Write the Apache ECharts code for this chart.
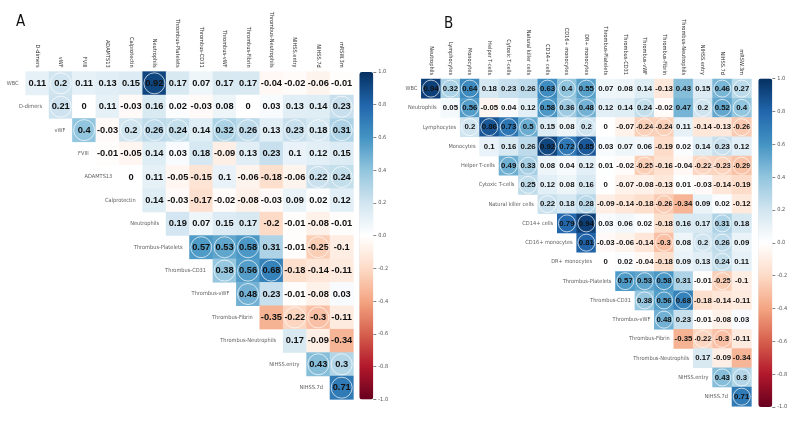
<!DOCTYPE html>
<html>
<head>
<meta charset="utf-8">
<script src="https://cdn.jsdelivr.net/npm/echarts@6/dist/echarts.min.js"></script>
<style>html,body{margin:0;padding:0;background:#fff;}#c{width:800px;height:433px;}</style>
</head>
<body>
<div id="c"></div>
<script>
// ---------- Panel A ----------
const colsA = ['D-dimers','vWF','FVIII','ADAMTS13','Calprotectin','Neutrophils','Thrombus-Platelets','Thrombus-CD31','Thrombus-vWF','Thrombus-Fibrin','Thrombus-Neutrophils','NIHSS.entry','NIHSS.7d','mRSW.3m'];
const rowsA = ['WBC','D-dimers','vWF','FVIII','ADAMTS13','Calprotectin','Neutrophils','Thrombus-Platelets','Thrombus-CD31','Thrombus-vWF','Thrombus-Fibrin','Thrombus-Neutrophils','NIHSS.entry','NIHSS.7d'];
// row i holds the values for columns i..end
const valuesA = [
  [0.11,0.2,0.11,0.13,0.15,0.92,0.17,0.07,0.17,0.17,-0.04,-0.02,-0.06,-0.01],
  [0.21,0,0.11,-0.03,0.16,0.02,-0.03,0.08,0,0.03,0.13,0.14,0.23],
  [0.4,-0.03,0.2,0.26,0.24,0.14,0.32,0.26,0.13,0.23,0.18,0.31],
  [-0.01,-0.05,0.14,0.03,0.18,-0.09,0.13,0.23,0.1,0.12,0.15],
  [0,0.11,-0.05,-0.15,0.1,-0.06,-0.18,-0.06,0.22,0.24],
  [0.14,-0.03,-0.17,-0.02,-0.08,-0.03,0.09,0.02,0.12],
  [0.19,0.07,0.15,0.17,-0.2,-0.01,-0.08,-0.01],
  [0.57,0.53,0.58,0.31,-0.01,-0.25,-0.1],
  [0.38,0.56,0.68,-0.18,-0.14,-0.11],
  [0.48,0.23,-0.01,-0.08,0.03],
  [-0.35,-0.22,-0.3,-0.11],
  [0.17,-0.09,-0.34],
  [0.43,0.3],
  [0.71]
];
// significance marks (white circles), same shape as valuesA
const sigA = [
  [0,1,0,0,0,1,0,0,0,0,0,0,0,0],
  [1,0,0,0,0,0,0,0,0,0,0,0,1],
  [1,0,1,1,1,0,1,1,0,1,1,1],
  [0,0,0,0,0,0,0,0,0,0,0],
  [0,0,0,0,0,0,0,0,1,1],
  [0,0,0,0,0,0,0,0,0],
  [0,0,0,0,0,0,0,0],
  [1,1,1,0,0,1,0],
  [1,1,1,0,0,0],
  [1,0,0,0,0],
  [0,1,1,0],
  [0,0,0],
  [1,1],
  [1]
];

// ---------- Panel B ----------
const colsB = ['Neutrophils','Lymphocytes','Monocytes','Helper T-cells','Cytoxic T-cells','Natural killer cells','CD14+ cells','CD16+ monocytes','DR+ monocytes','Thrombus-Platelets','Thrombus-CD31','Thrombus-vWF','Thrombus-Fibrin','Thrombus-Neutrophils','NIHSS.entry','NIHSS.7d','mRSW.3m'];
const rowsB = ['WBC','Neutrophils','Lymphocytes','Monocytes','Helper T-cells','Cytoxic T-cells','Natural killer cells','CD14+ cells','CD16+ monocytes','DR+ monocytes','Thrombus-Platelets','Thrombus-CD31','Thrombus-vWF','Thrombus-Fibrin','Thrombus-Neutrophils','NIHSS.entry','NIHSS.7d'];
const valuesB = [
  [0.94,0.32,0.64,0.18,0.23,0.26,0.63,0.4,0.55,0.07,0.08,0.14,-0.13,0.43,0.15,0.46,0.27],
  [0.05,0.56,-0.05,0.04,0.12,0.58,0.36,0.48,0.12,0.14,0.24,-0.02,0.47,0.2,0.52,0.4],
  [0.2,0.86,0.73,0.5,0.15,0.08,0.2,0,-0.07,-0.24,-0.24,0.11,-0.14,-0.13,-0.26],
  [0.1,0.16,0.26,0.92,0.72,0.85,0.03,0.07,0.06,-0.19,0.02,0.14,0.23,0.12],
  [0.49,0.33,0.08,0.04,0.12,0.01,-0.02,-0.25,-0.16,-0.04,-0.22,-0.23,-0.29],
  [0.25,0.12,0.08,0.16,0,-0.07,-0.08,-0.13,0.01,-0.03,-0.14,-0.19],
  [0.22,0.18,0.28,-0.09,-0.14,-0.18,-0.26,-0.34,0.09,0.02,-0.12],
  [0.79,0.94,0.03,0.06,0.02,-0.18,0.16,0.17,0.31,0.18],
  [0.81,-0.03,-0.06,-0.14,-0.3,0.08,0.2,0.26,0.09],
  [0,0.02,-0.04,-0.18,0.09,0.13,0.24,0.11],
  [0.57,0.53,0.58,0.31,-0.01,-0.25,-0.1],
  [0.38,0.56,0.68,-0.18,-0.14,-0.11],
  [0.48,0.23,-0.01,-0.08,0.03],
  [-0.35,-0.22,-0.3,-0.11],
  [0.17,-0.09,-0.34],
  [0.43,0.3],
  [0.71]
];
const sigB = [
  [1,1,1,0,0,0,1,1,1,0,0,0,0,0,0,1,1],
  [0,1,0,0,0,1,1,1,0,0,1,0,0,1,1,1],
  [1,1,1,1,0,0,1,0,0,1,1,0,0,0,1],
  [0,0,0,1,1,1,0,0,0,0,0,0,1,0],
  [1,1,0,0,0,0,0,1,0,0,1,1,1],
  [1,0,0,0,0,0,0,0,0,0,0,0],
  [1,0,1,0,0,0,1,0,0,0,0],
  [1,1,0,0,0,0,0,0,1,0],
  [1,0,0,0,1,0,1,1,0],
  [0,0,0,0,0,0,1,0],
  [1,1,1,0,0,1,0],
  [1,1,1,0,0,0],
  [1,0,0,0,0],
  [0,1,1,0],
  [0,0,0],
  [1,1],
  [1]
];

const palette = ['#67001F','#B2182B','#D6604D','#F4A582','#FDDBC7','#FFFFFF','#D1E5F0','#92C5DE','#4393C3','#2166AC','#053061'];

const NARROW = "'Liberation Sans Narrow','DejaVu Sans Condensed',sans-serif";
const SANS = "'Liberation Sans',Arial,sans-serif";
const LBL = 5.6;

function heat(values){ const d=[]; values.forEach((row,i)=>row.forEach((v,k)=>d.push([i+k,i,v]))); return d; }
function sig(values,flags){ const d=[]; values.forEach((row,i)=>row.forEach((v,k)=>{ if(flags[i][k]) d.push([i+k,i,v]); })); return d; }
function diag(rows){ return rows.map((r,i)=>({value:[i,i],name:r})); }

const gA = {left:25.6, top:71.6, width:327.8, height:327.8};
const gB = {left:421.3, top:79, width:330.1, height:327.3};
const cbA = {left:359.3, top:72, width:14, height:327.4};
const cbB = {left:758.3, top:78.5, width:14, height:328.5};

function mainX(idx, cols){ return {gridIndex:idx, type:'category', position:'top', data:cols,
  axisLine:{show:false}, axisTick:{show:false}, splitLine:{show:false},
  axisLabel:{interval:0, rotate:90, margin:4, fontSize:LBL, color:'#333', fontFamily:NARROW}}; }
function mainY(idx, rows){ return {gridIndex:idx, type:'category', inverse:true, data:rows, show:false}; }
function cbY(idx){ return {gridIndex:idx, type:'value', min:-1, max:1, interval:0.2, position:'right',
  axisLine:{show:false}, splitLine:{show:false},
  axisTick:{show:true, length:3, lineStyle:{color:'#666', width:0.8}},
  axisLabel:{margin:5, fontSize:LBL, color:'#555', fontFamily:NARROW, formatter:v=>v.toFixed(1)}}; }

function heatSeries(xi, data, fs){ return {type:'heatmap', xAxisIndex:xi, yAxisIndex:xi, data:data, silent:true,
  itemStyle:{borderWidth:0},
  label:{show:true, formatter:p=>String(p.value[2]), fontSize:fs, fontWeight:'bold', color:'#111', fontFamily:SANS}}; }
function circSeries(xi, data, size){ return {type:'scatter', xAxisIndex:xi, yAxisIndex:xi, data:data, silent:true,
  symbol:'circle', symbolSize:size, z:3,
  itemStyle:{color:'rgba(0,0,0,0)', borderColor:'rgba(255,255,255,0.85)', borderWidth:1}}; }
function labelSeries(xi, rows, w, h, dist){ return {type:'scatter', xAxisIndex:xi, yAxisIndex:xi, data:diag(rows), silent:true,
  symbol:'rect', symbolSize:[w,h], itemStyle:{color:'rgba(0,0,0,0)'}, z:4,
  label:{show:true, position:'left', distance:dist, formatter:p=>p.name, fontSize:LBL, color:'#333', fontFamily:NARROW}}; }

const chart = echarts.init(document.getElementById('c'), null, {renderer:'canvas'});
chart.setOption({
  backgroundColor:'#fff',
  animation:false,
  title:[
    {text:'A', left:16, top:15, padding:0, textStyle:{fontSize:15, fontWeight:'normal', color:'#111', fontFamily:NARROW}},
    {text:'B', left:444, top:17, padding:0, textStyle:{fontSize:15, fontWeight:'normal', color:'#111', fontFamily:NARROW}}
  ],
  grid:[
    Object.assign({containLabel:false}, gA),
    Object.assign({containLabel:false}, gB),
    Object.assign({containLabel:false}, cbA),
    Object.assign({containLabel:false}, cbB)
  ],
  xAxis:[ mainX(0,colsA), mainX(1,colsB),
    {gridIndex:2, type:'category', data:[''], show:false},
    {gridIndex:3, type:'category', data:[''], show:false} ],
  yAxis:[ mainY(0,rowsA), mainY(1,rowsB), cbY(2), cbY(3) ],
  visualMap:[
    {type:'continuous', min:-1, max:1, seriesIndex:0, calculable:false, hoverLink:false, padding:0,
     left:cbA.left, top:cbA.top, itemWidth:cbA.width, itemHeight:cbA.height, text:null, inRange:{color:palette}},
    {type:'continuous', min:-1, max:1, seriesIndex:3, calculable:false, hoverLink:false, padding:0,
     left:cbB.left, top:cbB.top, itemWidth:cbB.width, itemHeight:cbB.height, text:null, inRange:{color:palette}}
  ],
  series:[
    heatSeries(0, heat(valuesA), 9.3),
    circSeries(0, sig(valuesA, sigA), 21),
    labelSeries(0, rowsA, 23.4, 23.4, 7),
    heatSeries(1, heat(valuesB), 7.8),
    circSeries(1, sig(valuesB, sigB), 17),
    labelSeries(1, rowsB, 19.4, 19.25, 4)
  ]
});
</script>
</body>
</html>
